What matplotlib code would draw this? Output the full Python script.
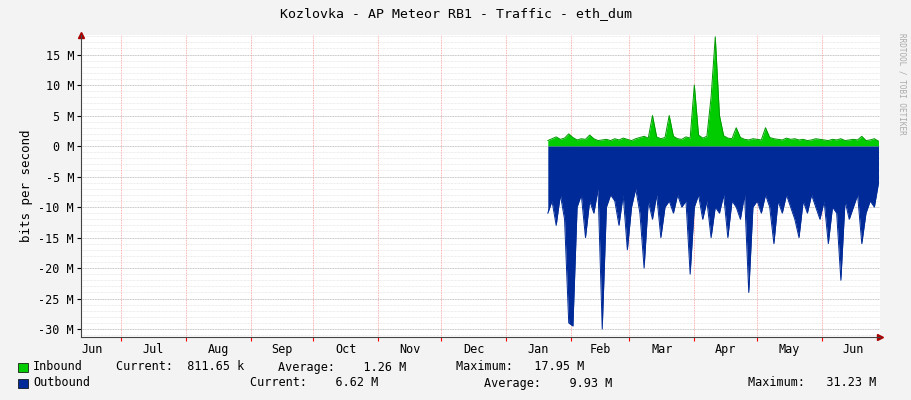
import numpy as np
import matplotlib
matplotlib.use("Agg")
import matplotlib.pyplot as plt

# day offsets since 12 Jun; samples every 2 days from day 223 (21 Jan)
start_day = 223
inbound = [0.9,1.2,1.5,1.1,1.3,2.0,1.4,1.0,1.2,1.1,1.8,1.2,0.9,1.0,1.1,0.9,1.2,1.0,1.3,1.1,
           0.9,1.2,1.4,1.6,1.3,5.0,1.5,1.2,1.4,5.0,1.6,1.2,1.1,1.5,1.3,10.0,1.8,1.3,1.6,8.0,
           17.9,5.0,1.7,1.3,1.2,3.0,1.4,1.1,1.0,1.2,1.1,1.0,3.0,1.4,1.2,1.1,1.0,1.3,1.1,1.2,
           1.0,1.1,0.9,1.0,1.2,1.1,1.0,0.9,1.1,1.0,1.2,0.9,1.0,1.1,1.0,1.6,0.9,1.0,1.2,0.8]
outbound = [-11,-9,-13,-8,-12,-29,-29.5,-10,-8,-15,-9,-11,-7,-30,-10,-8,-9,-13,-8,-17,
            -10,-7,-11,-20,-9,-12,-8,-15,-10,-9,-11,-8,-10,-9,-21,-10,-8,-12,-9,-15,
            -10,-11,-8,-15,-9,-10,-12,-8,-24,-10,-9,-11,-8,-10,-16,-9,-11,-8,-10,-12,
            -15,-9,-11,-8,-10,-12,-9,-16,-10,-11,-22,-9,-12,-10,-8,-16,-11,-9,-10,-6]
month_labels = ["Jun","Jul","Aug","Sep","Oct","Nov","Dec","Jan","Feb","Mar","Apr","May","Jun"]
month_starts = [19,50,81,111,142,172,203,234,262,293,323,354]   # day offsets of 1st of month (Jul..Jun)
y_ticks = [15,10,5,0,-5,-10,-15,-20,-25,-30]

days = start_day + 2*np.arange(len(inbound))

plt.rcParams['font.family'] = ['DejaVu Sans Mono']
fig = plt.figure(figsize=(9.11,4.0), dpi=100, facecolor='#F3F3F3')
ax = fig.add_axes([81/911, 63/400, 799/911, 302/400])
ax.set_facecolor('white')
xmin, xmax = 0, 381.7
ymin, ymax = -31.3, 18.2
ax.set_xlim(xmin, xmax); ax.set_ylim(ymin, ymax)

for y in np.arange(-31, 19, 1):
    ax.axhline(y, color='#DDDDDD', lw=0.5, ls=(0,(1,1)), zorder=0)
for y in y_ticks:
    ax.axhline(y, color='#BBBBBB', lw=0.6, ls=(0,(1,1)), zorder=0)
for d in month_starts:
    ax.axvline(d, color='#FF9999', lw=0.6, ls=(0,(1,1)), zorder=0)

ax.fill_between(days, 0, inbound, color='#00CC00', lw=0, zorder=2)
ax.plot(days, inbound, color='#009900', lw=0.7, zorder=3)
ax.fill_between(days, 0, outbound, color='#002A97', lw=0, zorder=2)
ax.plot(days, outbound, color='#002A97', lw=0.7, zorder=3)

for s in ['top','right']:
    ax.spines[s].set_visible(False)
for s in ['left','bottom']:
    ax.spines[s].set_color('#444444'); ax.spines[s].set_linewidth(0.8)
ax.plot([xmax],[ymin], marker='>', color='#AA0000', ms=4, clip_on=False)
ax.plot([xmin],[ymax], marker='^', color='#AA0000', ms=4, clip_on=False)

ax.set_yticks(y_ticks)
ax.set_yticklabels([f"{v} M" for v in y_ticks], fontsize=8.5)
centers = [(-12+19)/2+2] + [(month_starts[i]+ (month_starts[i+1] if i+1 < len(month_starts) else 384))/2 for i in range(len(month_starts))]
ax.set_xticks(month_starts)
ax.set_xticklabels([])
ax.set_xticks(centers, minor=True)
ax.set_xticklabels(month_labels, minor=True, fontsize=8.5)
ax.tick_params(axis='x', which='minor', length=0, pad=4)
ax.tick_params(axis='x', which='major', length=3, color='#FF0000')
ax.tick_params(axis='y', length=3, pad=2)
ax.set_ylabel("bits per second", fontsize=9)

fig.text(0.5, 1-14/400, "Kozlovka - AP Meteor RB1 - Traffic - eth_dum", ha='center', va='center', fontsize=9.5)
fig.text(902/911, 0.79, "RRDTOOL / TOBI OETIKER", rotation=270, ha='center', va='center', fontsize=5.5, color='#AAAAAA')

def sq(y, c):
    fig.patches.append(plt.Rectangle((18/911, y-4.5/400), 10/911, 9/400, transform=fig.transFigure, facecolor=c, edgecolor='black', lw=0.5))
sq(1-367/400, '#00CC00')
sq(1-383/400, '#002A97')
y1, y2 = 1-367/400, 1-383/400
for x, t in [(33,"Inbound"),(116,"Current:  811.65 k"),(278,"Average:    1.26 M"),(456,"Maximum:   17.95 M")]:
    fig.text(x/911, y1, t, fontsize=8.5, va='center')
for x, t in [(33,"Outbound"),(250,"Current:    6.62 M"),(484,"Average:    9.93 M"),(748,"Maximum:   31.23 M")]:
    fig.text(x/911, y2, t, fontsize=8.5, va='center')

fig.savefig("out.png", dpi=100, facecolor=fig.get_facecolor())
